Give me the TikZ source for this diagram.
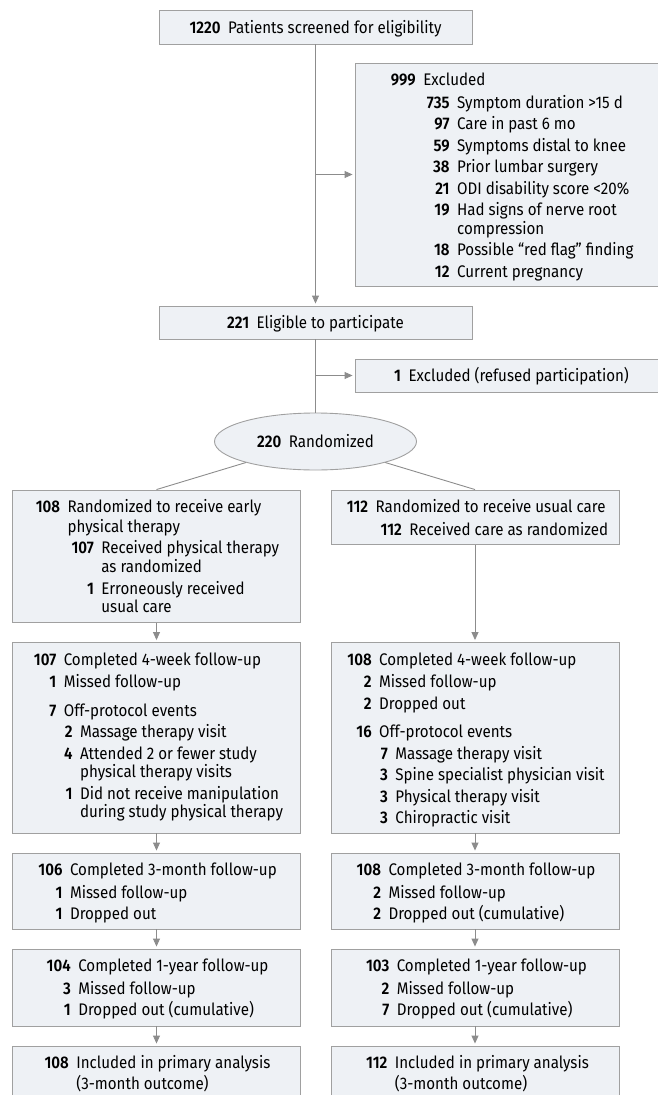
\documentclass[tikz,border=0pt]{standalone}
\usepackage{fontspec}
\setmainfont{Fira Sans}[FakeStretch=0.9,BoldFont={* SemiBold}]
\usepackage{tikz}
\usepackage{xcolor}
\usetikzlibrary{shapes.geometric,arrows.meta}
\definecolor{boxfill}{RGB}{238,241,245}
\definecolor{boxline}{RGB}{160,160,160}
\definecolor{arrline}{RGB}{140,140,140}
\newcommand{\fsz}{\fontsize{16.8pt}{18.7pt}\selectfont}
\newcommand{\cnt}[2]{{\bfseries\phantom{#1}\llap{#2}}\hspace{7.5pt}}
\newcommand{\ind}[1]{\phantom{\cnt{#1}{}}}
\tikzset{
	box/.style={draw=boxline,fill=boxfill,line width=0.9pt,inner sep=0pt,font=\fsz,text height=13pt,text depth=0.5pt},
	txt/.style={anchor=north,align=left,inner sep=0pt,font=\fsz},
	conn/.style={draw=arrline,line width=0.9pt},
	arr/.style={conn,-{Triangle[length=8pt,width=7pt]},shorten >=2pt},
}

\begin{document}
\begin{tikzpicture}[x=1pt,y=1pt]
\useasboundingbox (0,0) rectangle (657,-1095);

% enrollment
\node[box,minimum width=313,minimum height=34] (screen) at (315.5,-27) {\textbf{1220}\hspace{7.5pt}Patients screened for eligibility};
\node[box,minimum width=313,minimum height=223] (excl) at (511.5,-174.5) {};
\node[txt] (exclt) at (511.5,-72.4) {\strut\cnt{000}{999}Excluded\\[2.8pt]
\ind{000}\cnt{000}{735}Symptom duration >15 d\\[2.8pt]
\ind{000}\cnt{000}{97}Care in past 6 mo\\[2.8pt]
\ind{000}\cnt{000}{59}Symptoms distal to knee\\[2.8pt]
\ind{000}\cnt{000}{38}Prior lumbar surgery\\[2.8pt]
\ind{000}\cnt{000}{21}ODI disability score <20\%\\[2.8pt]
\ind{000}\cnt{000}{19}Had signs of nerve root\\
\ind{000}\ind{000}compression\\[2.8pt]
\ind{000}\cnt{000}{18}Possible “red flag” finding\\[2.8pt]
\ind{000}\cnt{000}{12}Current pregnancy};
\node[box,minimum width=313,minimum height=33] (elig) at (315.5,-322.5) {\textbf{221}\hspace{7.5pt}Eligible to participate};
\node[box,minimum width=313,minimum height=33] (excla) at (511.5,-375.5) {\textbf{1}\hspace{7.5pt}Excluded (refused participation)};
\node[box,ellipse,minimum width=202,minimum height=57] (rand) at (315.5,-441.5) {\textbf{220}\hspace{7.5pt}Randomized};

% allocation
\node[box,minimum width=288,minimum height=132.3] (pt1) at (156.5,-556.15) {};
\node[txt] (pt1t) at (156.5,-499.4) {\strut\cnt{000}{108}Randomized to receive early\\
\ind{000}physical therapy\\[2.8pt]
\ind{000}\cnt{000}{107}Received physical therapy\\
\ind{000}\ind{000}as randomized\\[2.8pt]
\ind{000}\cnt{000}{1}Erroneously received\\
\ind{000}\ind{000}usual care};
\node[box,minimum width=288,minimum height=54.7] (uc1) at (475,-517.35) {};
\node[txt] (uc1t) at (475,-499.4) {\strut\cnt{000}{112}Randomized to receive usual care\\[2.8pt]
\ind{000}\cnt{000}{112}Received care as randomized};

% 4-week
\node[box,minimum width=288,minimum height=190.5] (pt2) at (156.5,-737.75) {};
\node[txt] (pt2t) at (156.5,-651.9) {\strut\cnt{000}{107}Completed 4-week follow-up\\[2.8pt]
\cnt{000}{1}Missed follow-up\\[9.6pt]
\cnt{000}{7}Off-protocol events\\[2.8pt]
\ind{000}\cnt{0}{2}Massage therapy visit\\[2.8pt]
\ind{000}\cnt{0}{4}Attended 2 or fewer study\\
\ind{000}\ind{0}physical therapy visits\\[2.8pt]
\ind{000}\cnt{0}{1}Did not receive manipulation\\
\ind{000}\ind{0}during study physical therapy};
\node[box,minimum width=288,minimum height=190.5] (uc2) at (475,-737.75) {};
\node[txt] (uc2t) at (475,-651.9) {\strut\cnt{000}{108}Completed 4-week follow-up\\[2.8pt]
\cnt{000}{2}Missed follow-up\\[2.8pt]
\cnt{000}{2}Dropped out\\[9.6pt]
\cnt{000}{16}Off-protocol events\\[2.8pt]
\ind{000}\cnt{0}{7}Massage therapy visit\\[2.8pt]
\ind{000}\cnt{0}{3}Spine specialist physician visit\\[2.8pt]
\ind{000}\cnt{0}{3}Physical therapy visit\\[2.8pt]
\ind{000}\cnt{0}{3}Chiropractic visit};

% 3-month
\node[box,minimum width=288,minimum height=76] (pt3) at (156.5,-891) {};
\node[txt] (pt3t) at (156.5,-862.4) {\strut\cnt{000}{106}Completed 3-month follow-up\\[2.8pt]
\cnt{000}{1}Missed follow-up\\[2.8pt]
\cnt{000}{1}Dropped out};
\node[box,minimum width=288,minimum height=76] (uc3) at (475,-891) {};
\node[txt] (uc3t) at (475,-862.4) {\strut\cnt{000}{108}Completed 3-month follow-up\\[2.8pt]
\cnt{000}{2}Missed follow-up\\[2.8pt]
\cnt{000}{2}Dropped out (cumulative)};

% 1-year
\node[box,minimum width=288,minimum height=77] (pt4) at (156.5,-987.5) {};
\node[txt] (pt4t) at (156.5,-958.4) {\strut\cnt{000}{104}Completed 1-year follow-up\\[2.8pt]
\cnt{000}{3}Missed follow-up\\[2.8pt]
\cnt{000}{1}Dropped out (cumulative)};
\node[box,minimum width=288,minimum height=77] (uc4) at (475,-987.5) {};
\node[txt] (uc4t) at (475,-958.4) {\strut\cnt{000}{103}Completed 1-year follow-up\\[2.8pt]
\cnt{000}{2}Missed follow-up\\[2.8pt]
\cnt{000}{7}Dropped out (cumulative)};

% analysis
\node[box,minimum width=288,minimum height=64] (pt5) at (156.5,-1078) {};
\node[txt] (pt5t) at (156.5,-1055.4) {\strut\cnt{000}{108}Included in primary analysis\\
\ind{000}(3-month outcome)};
\node[box,minimum width=288,minimum height=64] (uc5) at (475,-1078) {};
\node[txt] (uc5t) at (475,-1055.4) {\strut\cnt{000}{112}Included in primary analysis\\
\ind{000}(3-month outcome)};

% connectors
\draw[arr] (screen.south) -- (elig.north);
\draw[arr] (screen.south |- excl.west) -- (excl.west);
\draw[conn] (elig.south) -- (rand.north);
\draw[arr] (elig.south |- excla.west) -- (excla.west);
\draw[conn] (rand) -- (pt1.north);
\draw[conn] (rand) -- (uc1.north);
\draw[arr] (pt1.south) -- (pt2.north);
\draw[arr] (uc1.south) -- (uc2.north);
\draw[arr] (pt2.south) -- (pt3.north);
\draw[arr] (uc2.south) -- (uc3.north);
\draw[arr] (pt3.south) -- (pt4.north);
\draw[arr] (uc3.south) -- (uc4.north);
\draw[arr] (pt4.south) -- (pt5.north);
\draw[arr] (uc4.south) -- (uc5.north);

\end{tikzpicture}
\end{document}
